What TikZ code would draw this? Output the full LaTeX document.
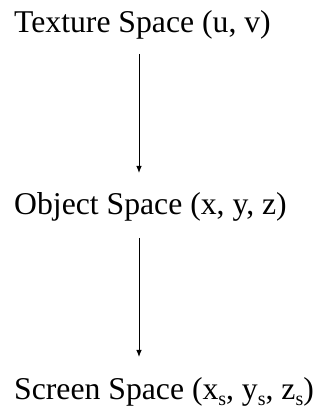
\documentclass[tikz,border=0pt]{standalone}
\usepackage{fontspec}
\setmainfont{Liberation Serif}
\usetikzlibrary{arrows.meta}
\newcommand{\subs}{\raisebox{-7pt}{\fontsize{20}{20}\selectfont s}}
\tikzset{
  lbl/.style={anchor=base west, inner sep=0pt, font=\fontsize{31.7}{38}\selectfont},
  conn/.style={line width=0.9pt, -{Latex[length=7pt,width=5.5pt]}}
}
\begin{document}
\begin{tikzpicture}[x=1pt,y=1pt]
\useasboundingbox (0,0) rectangle (321,415);
\node[lbl] (texture) at (14,382) {Texture Space (u, v)};
\node[lbl] (object) at (14,200) {Object Space (x, y, z)};
\node[lbl] (screen) at (14,16) {Screen Space (x\subs, y\subs, z\subs)};
\coordinate (a1s) at (139,361);
\coordinate (a1e) at (139,242);
\coordinate (a2s) at (139,177);
\coordinate (a2e) at (139,58);
\draw[conn] (a1s) -- (a1e);
\draw[conn] (a2s) -- (a2e);
\end{tikzpicture}
\end{document}
